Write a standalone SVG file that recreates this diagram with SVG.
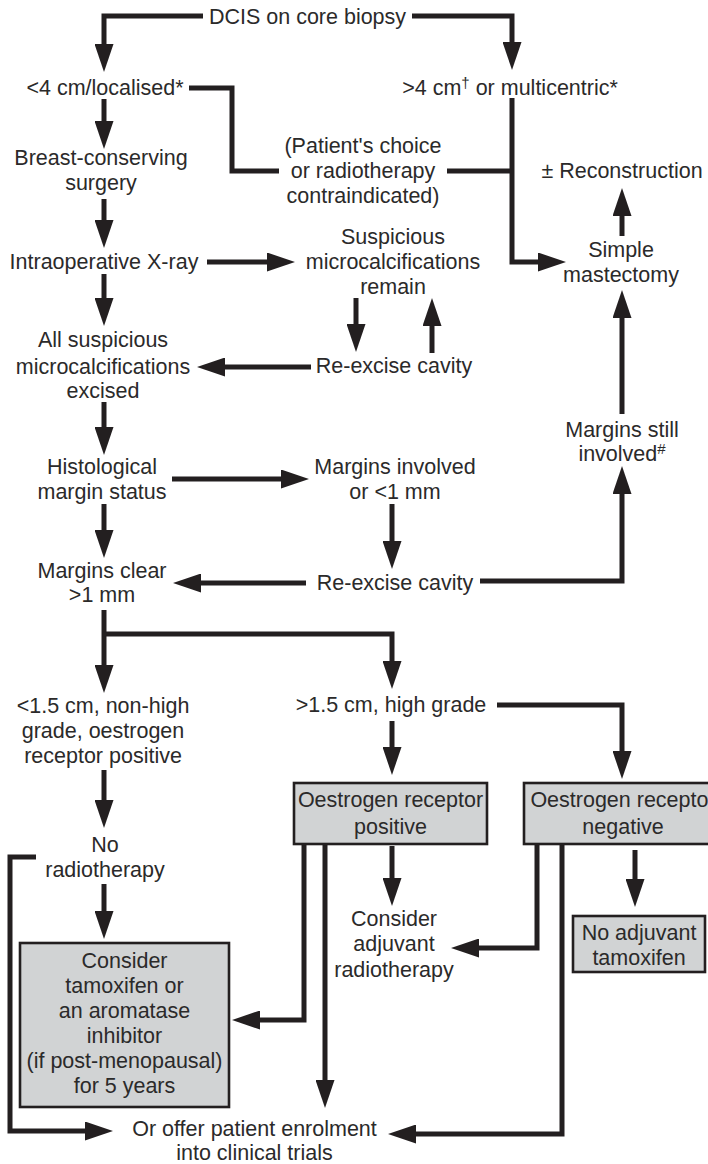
<svg xmlns="http://www.w3.org/2000/svg" width="708" height="1164" viewBox="0 0 708 1164">
<style>
text{font-family:"Liberation Sans",Arial,sans-serif;font-size:21.5px;fill:#2b2a2a;text-anchor:middle}
.c{fill:none;stroke:#231f20;stroke-width:5;stroke-linejoin:miter}
.a{marker-end:url(#ah)}
.box{fill:#d1d3d4;stroke:#231f20;stroke-width:2.6}
.sup{font-size:15px}
</style>
<defs>
<marker id="ah" markerUnits="userSpaceOnUse" viewBox="0 0 28 19" refX="2" refY="9.5" markerWidth="28" markerHeight="19" orient="auto">
<path d="M0,0 L28,9.5 L0,19 Z" fill="#231f20"/>
</marker>
</defs>
<rect width="708" height="1164" fill="#ffffff"/>
<g id="connectors">
<path class="c a" d="M203,16 H104 V46"/>
<path class="c a" d="M412,16 H512 V44"/>
<path class="c" d="M189,88 H232 V171 H279"/>
<path class="c" d="M447,171 H512"/>
<path class="c a" d="M512,98 V262 H540"/>
<path class="c a" d="M104,99 V123"/>
<path class="c a" d="M104,199 V222"/>
<path class="c a" d="M207,262 H269"/>
<path class="c a" d="M104,274 V300"/>
<path class="c a" d="M622,236 V214"/>
<path class="c a" d="M356,298 V326"/>
<path class="c a" d="M432,353 V324"/>
<path class="c a" d="M311,367 H223"/>
<path class="c a" d="M104,402 V429"/>
<path class="c a" d="M172,479 H283"/>
<path class="c a" d="M104,504 V532"/>
<path class="c a" d="M392,504 V543"/>
<path class="c a" d="M480,581 H622 V492"/>
<path class="c a" d="M622,414 V316"/>
<path class="c a" d="M306,583 H199"/>
<path class="c a" d="M104,610 V667"/>
<path class="c a" d="M104,634 H392 V663"/>
<path class="c a" d="M392,721 V749"/>
<path class="c a" d="M497,705 H622 V753"/>
<path class="c a" d="M104,770 V802"/>
<path class="c a" d="M104,884 V913"/>
<path class="c a" d="M392,846 V880"/>
<path class="c a" d="M635,850 V881"/>
<path class="c a" d="M304,844 V1020 H258"/>
<path class="c a" d="M325,844 V1082"/>
<path class="c a" d="M537,844 V948 H477"/>
<path class="c a" d="M562,844 V1134 H414"/>
<path class="c a" d="M36,857 H10 V1131 H87"/>
</g>
<g id="n-dcis"><text x="307.5" y="24">DCIS on core biopsy</text></g>
<g id="n-lt4"><text x="105" y="95">&lt;4 cm/localised*</text></g>
<g id="n-gt4"><text x="510" y="95">&gt;4 cm<tspan class="sup" dy="-7">†</tspan><tspan dy="7"> or multicentric*</tspan></text></g>
<g id="n-bcs"><text x="101" y="165">Breast-conserving</text><text x="101" y="190">surgery</text></g>
<g id="n-choice"><text x="363" y="153">(Patient's choice</text><text x="363" y="178">or radiotherapy</text><text x="363" y="203">contraindicated)</text></g>
<g id="n-recon"><text x="622" y="178">± Reconstruction</text></g>
<g id="n-xray"><text x="104" y="269">Intraoperative X-ray</text></g>
<g id="n-susp"><text x="393" y="244">Suspicious</text><text x="393" y="269">microcalcifications</text><text x="393" y="294">remain</text></g>
<g id="n-mast"><text x="621" y="257">Simple</text><text x="621" y="282">mastectomy</text></g>
<g id="n-allsusp"><text x="103" y="347">All suspicious</text><text x="103" y="374">microcalcifications</text><text x="103" y="398">excised</text></g>
<g id="n-reex1"><text x="394" y="373">Re-excise cavity</text></g>
<g id="n-still"><text x="622" y="437">Margins still</text><text x="622" y="461">involved<tspan class="sup" dy="-7">#</tspan></text></g>
<g id="n-histo"><text x="102" y="474">Histological</text><text x="102" y="499">margin status</text></g>
<g id="n-involved"><text x="395" y="474">Margins involved</text><text x="395" y="499">or &lt;1 mm</text></g>
<g id="n-clear"><text x="102" y="578">Margins clear</text><text x="102" y="602">&gt;1 mm</text></g>
<g id="n-reex2"><text x="395" y="590">Re-excise cavity</text></g>
<g id="n-lt15"><text x="103" y="713">&lt;1.5 cm, non-high</text><text x="103" y="738">grade, oestrogen</text><text x="103" y="763">receptor positive</text></g>
<g id="n-gt15"><text x="391" y="712">&gt;1.5 cm, high grade</text></g>
<g id="n-erpos"><rect class="box" x="294" y="783" width="193" height="61"/><text x="390.5" y="807">Oestrogen receptor</text><text x="390.5" y="834">positive</text></g>
<g id="n-erneg"><rect class="box" x="524" y="783" width="196" height="61"/><text x="623" y="807">Oestrogen receptor</text><text x="623" y="834">negative</text></g>
<g id="n-norad"><text x="105" y="852">No</text><text x="105" y="877">radiotherapy</text></g>
<g id="n-adjrad"><text x="394" y="926">Consider</text><text x="394" y="951">adjuvant</text><text x="394" y="977">radiotherapy</text></g>
<g id="n-notam"><rect class="box" x="573" y="916" width="132" height="56"/><text x="639" y="940">No adjuvant</text><text x="639" y="965">tamoxifen</text></g>
<g id="n-tam"><rect class="box" x="20" y="943" width="209" height="164"/><text x="124.5" y="968">Consider</text><text x="124.5" y="993">tamoxifen or</text><text x="124.5" y="1018">an aromatase</text><text x="124.5" y="1043">inhibitor</text><text x="124.5" y="1068">(if post-menopausal)</text><text x="124.5" y="1093">for 5 years</text></g>
<g id="n-trials"><text x="254.5" y="1136">Or offer patient enrolment</text><text x="254.5" y="1160">into clinical trials</text></g>
</svg>
